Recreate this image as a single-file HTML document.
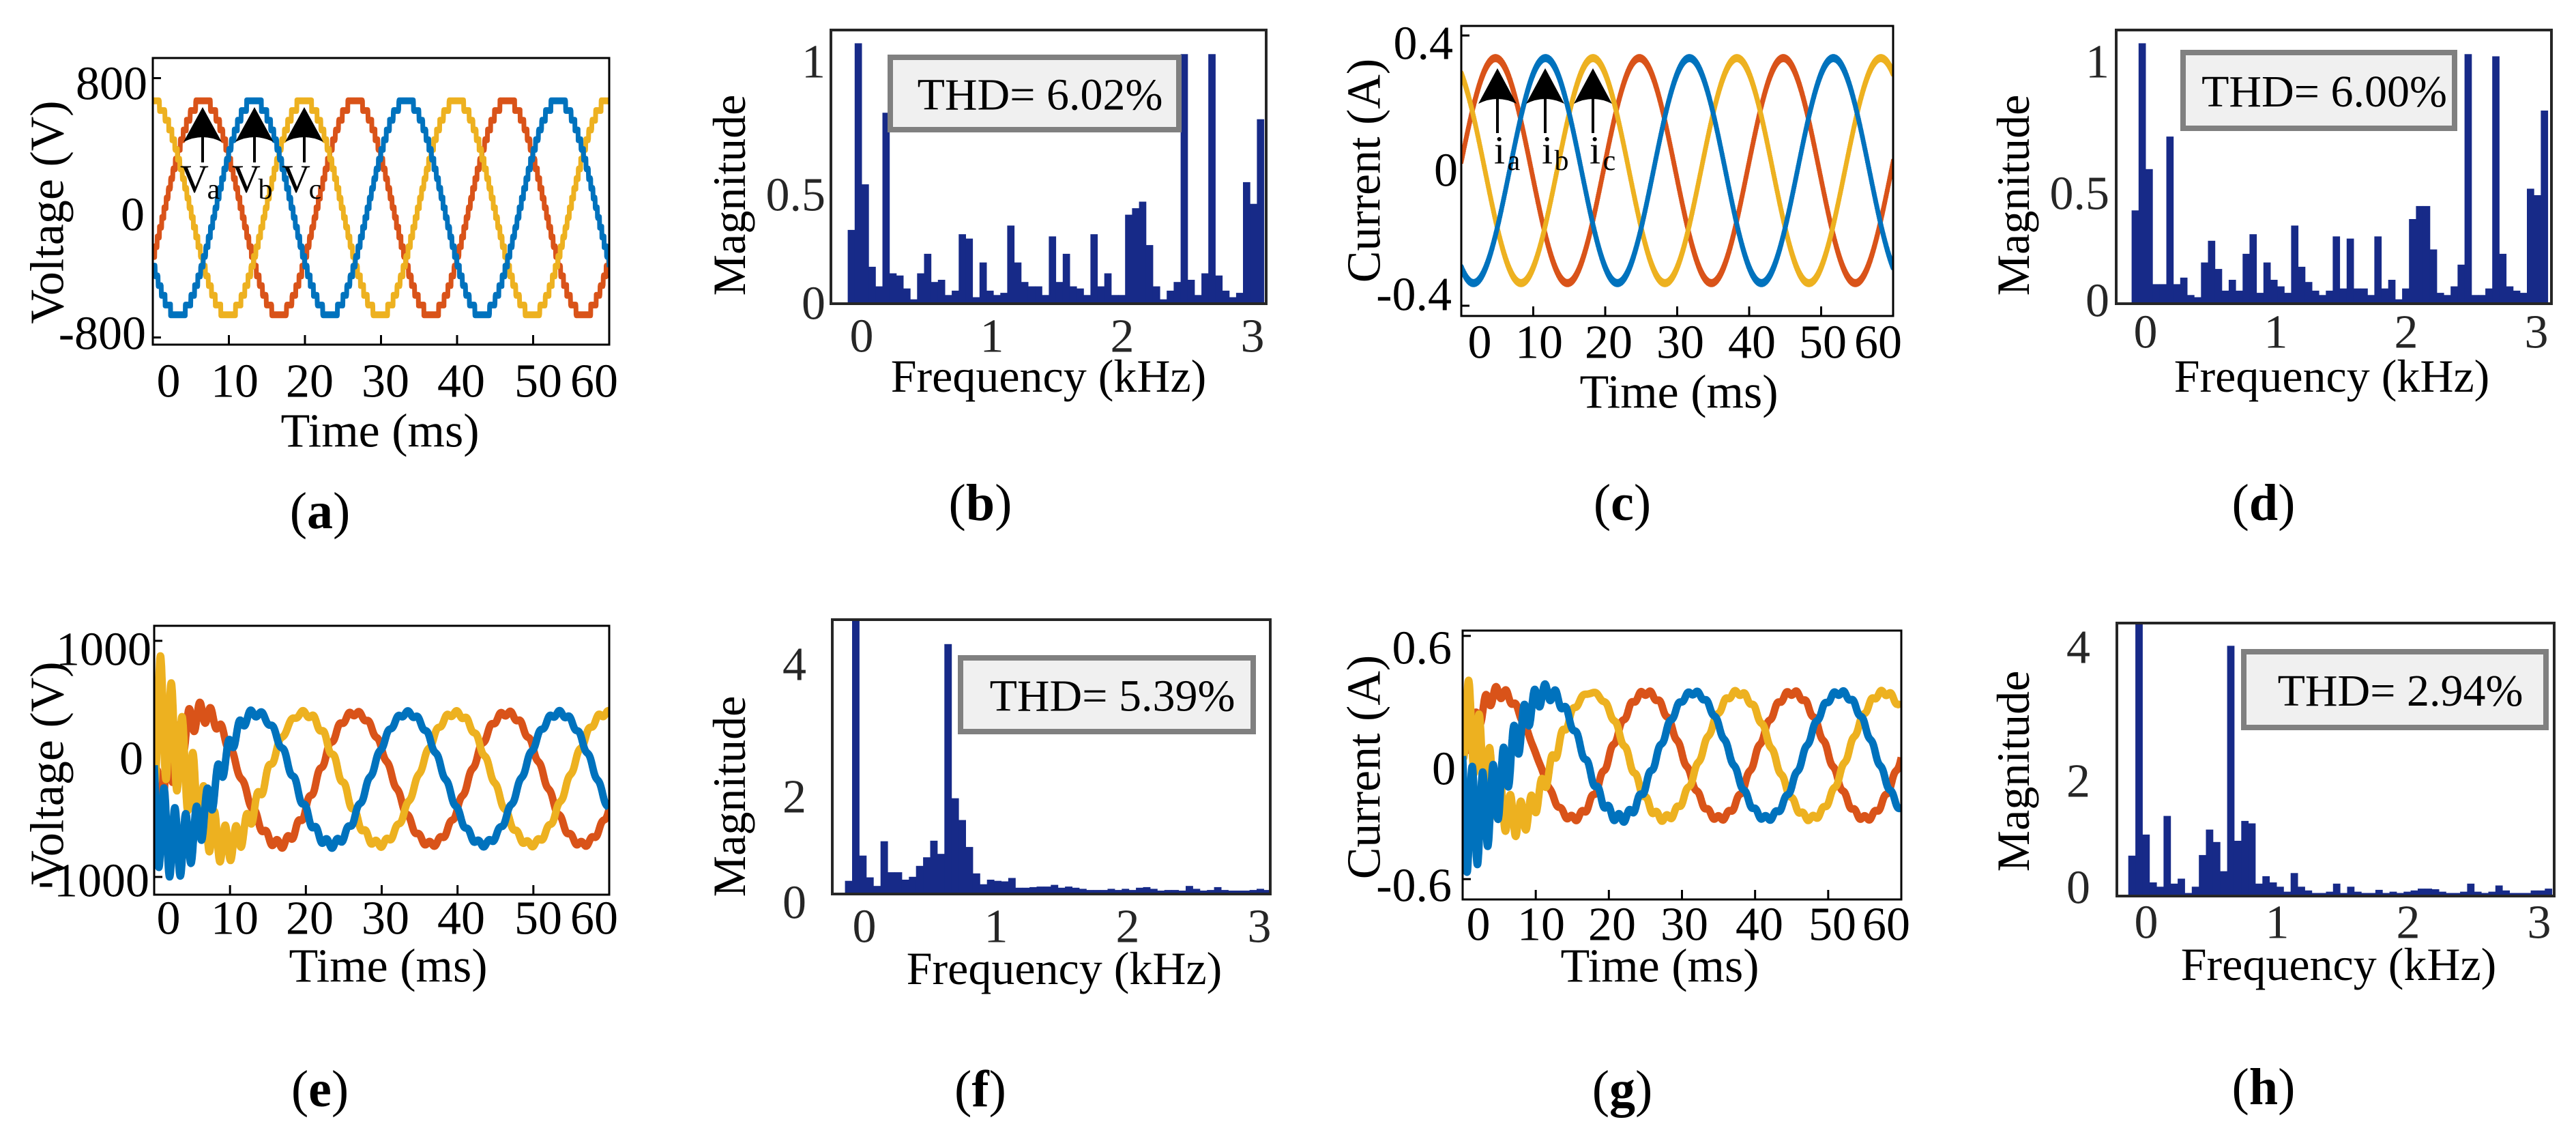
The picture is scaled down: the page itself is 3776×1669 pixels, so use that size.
<!DOCTYPE html>
<html><head><meta charset="utf-8">
<style>
html,body{margin:0;padding:0;background:#fff;}
svg{display:block;font-family:"Liberation Serif","Times New Roman","Nimbus Roman","DejaVu Serif",serif;}
svg text{font-family:"Liberation Serif","Times New Roman","Nimbus Roman","DejaVu Serif",serif;}
</style></head>
<body>
<svg id="fig" width="3776" height="1669" viewBox="0 0 3776 1669" xmlns="http://www.w3.org/2000/svg"></svg>
<script>
// ---------- DATA ----------
const timeTicks = [0,10,20,30,40,50,60];
const timeTickLabels = ["0","10","20","30","40","50","60"];
const voltAAmp = [660,660,660];
const voltAPeak = [6.6,13.3,19.9];
const voltAOffset = [0,0,0];
const voltAYTicks = [800,0,-800];
const curCAmp = [0.333,0.333,0.333];
const curCPeak = [4.75,11.7,18.3];
const curCOffset = [0,0,0];
const curCYTicks = [0.4,0,-0.4];
const voltEAmp = [555,555,555];
const voltEPeak = [6.5,13.4,19.7];
const voltEOffset = [-168,-168,-168];
const voltERipple = [260,420,600];
const voltEYTicks = [1000,0,-1000];
const curGAmp = [0.31,0.31,0.31];
const curGPeak = [5.1,11.6,17.6];
const curGOffset = [0.01,0.01,0.01];
const curGRipple = [0.06,0.3,0.24];
const curGYTicks = [0.6,0,-0.6];
const specFreqTicks = [0,1,2,3];
const specB = [0.34,1.2,0.55,0.17,0.08,0.88,0.14,0.13,0.07,0.02,0.14,0.23,0.10,0.11,0.04,0.06,0.32,0.30,0.03,0.19,0.06,0.04,0.05,0.36,0.19,0.10,0.08,0.08,0.04,0.31,0.10,0.23,0.08,0.07,0.04,0.32,0.08,0.14,0.04,0.04,0.41,0.44,0.47,0.27,0.08,0.02,0.06,0.10,1.15,0.11,0.04,0.14,1.15,0.13,0.06,0.03,0.05,0.56,0.46,0.85];
const specD = [0.43,1.2,0.62,0.09,0.09,0.77,0.09,0.12,0.04,0.03,0.19,0.29,0.16,0.06,0.11,0.06,0.23,0.32,0.05,0.19,0.11,0.08,0.05,0.36,0.17,0.10,0.06,0.04,0.06,0.31,0.07,0.30,0.07,0.07,0.04,0.31,0.07,0.11,0.02,0.07,0.39,0.45,0.45,0.25,0.05,0.04,0.08,0.18,1.15,0.04,0.04,0.07,1.14,0.23,0.08,0.06,0.05,0.53,0.50,0.89];
const specF = [0.23,4.8,0.67,0.29,0.14,0.92,0.38,0.38,0.25,0.30,0.49,0.64,0.93,0.70,4.36,1.67,1.29,0.82,0.36,0.17,0.25,0.23,0.22,0.28,0.11,0.11,0.12,0.13,0.13,0.16,0.11,0.13,0.11,0.09,0.07,0.07,0.07,0.09,0.07,0.09,0.07,0.11,0.12,0.09,0.06,0.07,0.07,0.06,0.14,0.09,0.06,0.07,0.12,0.07,0.06,0.06,0.06,0.07,0.09,0.07];
const specH = [0.65,4.4,0.99,0.22,0.15,1.29,0.20,0.28,0.05,0.15,0.66,1.07,0.87,0.40,4.03,0.89,1.21,1.17,0.20,0.32,0.22,0.15,0.07,0.37,0.15,0.09,0.05,0.05,0.07,0.20,0.05,0.15,0.07,0.05,0.05,0.10,0.05,0.07,0.05,0.07,0.09,0.12,0.12,0.11,0.07,0.05,0.05,0.07,0.20,0.07,0.05,0.07,0.17,0.09,0.05,0.05,0.05,0.09,0.09,0.12];
const thdLabels = ["THD= 6.02%","THD= 6.00%","THD= 5.39%","THD= 2.94%"];

// ---------- HELPERS ----------
const NS="http://www.w3.org/2000/svg";
const svg=document.getElementById('fig');
const FONT='"Liberation Serif", "Times New Roman", "Nimbus Roman", "DejaVu Serif", serif';
function mk(tag,attrs,parent){const e=document.createElementNS(NS,tag);for(const k in attrs)e.setAttribute(k,attrs[k]);(parent||svg).appendChild(e);return e;}
function txt(str,x,y,size,opts,parent){
  opts=opts||{};
  const t=mk('text',{x:x,y:y,'font-size':size,'text-anchor':opts.anchor||'middle','dominant-baseline':'central',fill:opts.fill||'#000'},parent);
  t.style.fontFamily=FONT;
  if(opts.weight)t.setAttribute('font-weight',opts.weight);
  if(opts.rotate)t.setAttribute('transform','rotate(-90 '+x+' '+y+')');
  t.textContent=str;return t;
}
const COLORS=['#D95319','#0072BD','#EDB120'];
const NAMES=['phase-a','phase-b','phase-c'];
const ORDER=[0,2,1];

function timePanel(cfg){
  const g=mk('g',{});
  
  
  const L=cfg.box[0],T=cfg.box[1],R=cfg.box[2],B=cfg.box[3];
  const sx=t=>L+(t-0)/60*(R-L);
  const sy=v=>cfg.y0-v*cfg.yscale;
  const clip=mk('clipPath',{id:'clip-'+cfg.name},g);
  mk('rect',{x:L,y:T,width:R-L,height:B-T},clip);
  const lines=mk('g',{'clip-path':'url(#clip-'+cfg.name+')'},g);
  for(const p of ORDER){
    let d='';
    for(let i=0;i<=3000;i++){
      const t=i*0.02;
      let v=cfg.off[p]+cfg.amp[p]*Math.cos(2*Math.PI*(t-cfg.peak[p])/20);
      if(cfg.rip){v+=cfg.rip[p]*Math.exp(-t/6.5)*Math.sin(2*Math.PI*0.7*t+p*2.1);
        v+=cfg.amp[p]*0.04*Math.sin(2*Math.PI*0.75*t+p);}
      if(cfg.step){v=Math.round(v/cfg.step)*cfg.step;}
      if(cfg.noise){v+=cfg.noise*((i%3)-1);}
      d+=(i?'L':'M')+sx(t).toFixed(1)+' '+sy(v).toFixed(1);
    }
    const path=mk('path',{d:d,fill:'none',stroke:COLORS[p],'stroke-width':cfg.lw,'stroke-linejoin':'round'},lines);
    
    
  }
  const fr=mk('rect',{x:L,y:T,width:R-L,height:B-T,fill:'none',stroke:'#000','stroke-width':3},g);
  
  
  for(let i=1;i<timeTicks.length-1;i++){
    mk('line',{x1:sx(timeTicks[i]),x2:sx(timeTicks[i]),y1:B,y2:B-14,stroke:'#000','stroke-width':3},g);
  }
  cfg.yt.forEach(v=>{ if(v!==0) mk('line',{x1:L,x2:L+12,y1:sy(v),y2:sy(v),stroke:'#000','stroke-width':3},g);});
  for(let i=0;i<timeTicks.length;i++){
    const t=txt(timeTickLabels[i],cfg.xl[i],cfg.xly,70,{},g);
    
    
  }
  cfg.yt.forEach((v,i)=>{
    const t=txt(cfg.ytl[i],cfg.ylx[i],cfg.yly[i],70,{anchor:'end'},g);
    
    
  });
  const xt=txt('Time (ms)',cfg.xt[0],cfg.xt[1],70,{},g);
  
  
  const yt=txt(cfg.ylabel,cfg.yt2[0],cfg.yt2[1],70,{rotate:true},g);
  
  
  return g;
}

function specPanel(cfg){
  const g=mk('g',{});
  
  
  const L=cfg.box[0],T=cfg.box[1],R=cfg.box[2],B=cfg.box[3];
  const sx=f=>cfg.x0+f*cfg.kpx;
  const sy=m=>B-m*cfg.unit;
  const clip=mk('clipPath',{id:'clip-'+cfg.name},g);
  mk('rect',{x:L,y:T,width:R-L,height:B-T},clip);
  const bars=mk('g',{'clip-path':'url(#clip-'+cfg.name+')'},g);
  const n=cfg.data.length;
  const step=(cfg.fEnd-cfg.fStart)/(n-1);
  const bw=step*cfg.kpx;
  cfg.data.forEach((m,i)=>{
    const f=cfg.fStart+i*step;
    const r=mk('rect',{x:(sx(f)-bw/2).toFixed(1),y:sy(m).toFixed(1),width:(bw+0.5).toFixed(1),height:(B-sy(m)).toFixed(1),fill:'#172a88'},bars);
    
    
  });
  const fr=mk('rect',{x:L,y:T,width:R-L,height:B-T,fill:'none',stroke:'#262626','stroke-width':4},g);
  
  
  specFreqTicks.forEach(f=>{
    const t=txt(String(f),sx(f),cfg.xly,70,{fill:'#262626'},g);
    
    
  });
  cfg.ytl.forEach((s,i)=>{
    const t=txt(s,cfg.ylx,cfg.yly[i],70,{anchor:'end',fill:'#262626'},g);
    
    
  });
  const xt=txt('Frequency (kHz)',cfg.xt[0],cfg.xt[1],68,{},g);
  
  
  const yt=txt('Magnitude',cfg.yt2[0],cfg.yt2[1],68,{rotate:true},g);
  
  
  const bx=cfg.thd;
  const tb=mk('g',{},g);
  
  
  mk('rect',{x:bx[0],y:bx[1],width:bx[2]-bx[0],height:bx[3]-bx[1],fill:'#f0f0f0',stroke:'#808080','stroke-width':8},tb);
  txt(cfg.thdText,(bx[0]+bx[2])/2+8,(bx[1]+bx[3])/2+2,66,{},tb);
  return g;
}

function arrow(x,apex,base,stemEnd,name){
  const g=mk('g',{});
  
  
  mk('path',{d:`M${x} ${apex} L${x+28} ${base} Q${x} ${base-14} ${x-28} ${base} Z`,fill:'#000'},g);
  mk('line',{x1:x,x2:x,y1:base-10,y2:stemEnd,stroke:'#000','stroke-width':4},g);
  return g;
}

// ---------- PANELS ----------
timePanel({name:'panel-a-voltage',box:[224,85,893,505],y0:304.5,yscale:190/800,amp:voltAAmp,peak:voltAPeak,off:voltAOffset,step:60,noise:6,lw:7,
  yt:voltAYTicks,ytl:['800','0','-800'],ylx:[216,212,214],yly:[123,315,489],
  xl:[247,344,454,565,676,789,871],xly:559,xt:[557,632],ylabel:'Voltage (V)',yt2:[70,311]});
timePanel({name:'panel-c-current',box:[2142,38,2775,463],y0:250,yscale:495,amp:curCAmp,peak:curCPeak,off:curCOffset,noise:0.006,lw:6,
  yt:curCYTicks,ytl:['0.4','0','-0.4'],ylx:[2130,2137,2128],yly:[64,250,432],
  xl:[2169,2256,2358,2463,2568,2672,2753],xly:502,xt:[2461,575],ylabel:'Current (A)',yt2:[2000,250]});
timePanel({name:'panel-e-voltage',box:[226,917,893,1311],y0:1112,yscale:173/1000,amp:voltEAmp,peak:voltEPeak,off:voltEOffset,rip:voltERipple,lw:11,
  yt:voltEYTicks,ytl:['1000','0','-1000'],ylx:[222,210,219],yly:[952,1112,1291],
  xl:[247,344,454,565,676,789,871],xly:1346,xt:[569,1416],ylabel:'Voltage (V)',yt2:[70,1133]});
timePanel({name:'panel-g-current',box:[2144,924,2787,1318],y0:1110,yscale:297,amp:curGAmp,peak:curGPeak,off:curGOffset,rip:curGRipple,lw:11,
  yt:curGYTicks,ytl:['0.6','0','-0.6'],ylx:[2128,2134,2128],yly:[950,1127,1298],
  xl:[2167,2259,2363,2469,2579,2686,2765],xly:1355,xt:[2433,1416],ylabel:'Current (A)',yt2:[2000,1124]});

specPanel({name:'panel-b-spectrum',box:[1218,44,1856,445],x0:1263,kpx:191,unit:318,data:specB,fStart:-0.08,fEnd:3.06,
  xly:493,ytl:['1','0.5','0'],ylx:1210,yly:[91,286,445],xt:[1537,551],yt2:[1069,286],thd:[1305,84,1728,190],thdText:thdLabels[0]});
specPanel({name:'panel-d-spectrum',box:[3102,44,3740,445],x0:3145,kpx:191,unit:318,data:specD,fStart:-0.08,fEnd:3.06,
  xly:487,ytl:['1','0.5','0'],ylx:3092,yly:[91,284,441],xt:[3418,551],yt2:[2951,286],thd:[3200,77,3598,188],thdText:thdLabels[1]});
specPanel({name:'panel-f-spectrum',box:[1220,908,1862,1310],x0:1267,kpx:193,unit:84,data:specF,fStart:-0.12,fEnd:3.06,
  xly:1358,ytl:['4','2','0'],ylx:1182,yly:[974,1168,1323],xt:[1560,1419],yt2:[1069,1167],thd:[1408,964,1837,1072],thdText:thdLabels[2]});
specPanel({name:'panel-h-spectrum',box:[3103,913,3744,1313],x0:3146,kpx:192,unit:91,data:specH,fStart:-0.11,fEnd:3.07,
  xly:1352,ytl:['4','2','0'],ylx:3064,yly:[949,1145,1301],xt:[3428,1413],yt2:[2951,1130],thd:[3289,955,3732,1066],thdText:thdLabels[3]});

[[297,'a'],[373,'b'],[446,'c']].forEach(a=>{
  arrow(a[0],157,208,238,'arrow-v'+a[1]);
  const t=txt('V',a[0]-12,262,58,{});
  
  
  const s=txt(a[1],a[0]+16,278,42,{});
  
  
});
[[2195,'a'],[2265,'b'],[2335,'c']].forEach(a=>{
  arrow(a[0],100,152,195,'arrow-i'+a[1]);
  const t=txt('i',a[0]+3,220,58,{});
  
  
  const s=txt(a[1],a[0]+24,236,42,{});
  
  
});

const caps=[['a',469,749],['b',1437,737],['c',2378,737],['d',3318,737],['e',469,1596],['f',1437,1596],['g',2378,1596],['h',3318,1593]];
caps.forEach(c=>{
  const t=mk('text',{x:c[1],y:c[2],'font-size':76,'text-anchor':'middle','dominant-baseline':'central',fill:'#000'});
  t.style.fontFamily=FONT;
  
  
  const a=mk('tspan',{},t);a.textContent='(';
  const b=mk('tspan',{'font-weight':'bold'},t);b.textContent=c[0];
  const d=mk('tspan',{},t);d.textContent=')';
});
</script>
</body></html>
